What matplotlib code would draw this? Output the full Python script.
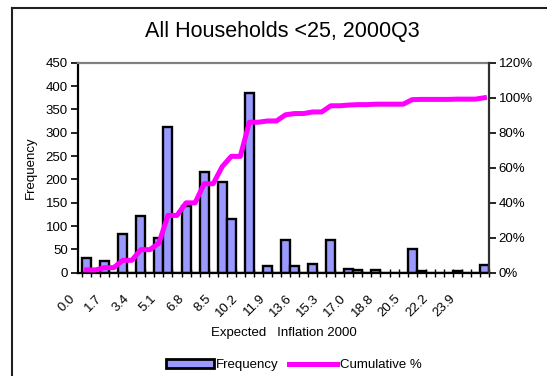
import matplotlib.pyplot as plt
import numpy as np
from matplotlib.lines import Line2D
from matplotlib.patches import Patch

plt.rcParams['font.family'] = ['Liberation Sans', 'DejaVu Sans']

# Histogram of expected inflation, households under 25
freq = [32, 0, 25, 0, 83, 0, 121, 0, 74, 313,
        0, 142, 0, 216, 0, 194, 116, 0, 386, 0,
        14, 0, 70, 14, 0, 18, 0, 70, 0, 8,
        5, 0, 5, 0, 0, 0, 51, 3, 0, 0,
        0, 3, 0, 0, 16]
bin_labels = ['0.0', '1.7', '3.4', '5.1', '6.8', '8.5', '10.2', '11.9',
              '13.6', '15.3', '17.0', '18.8', '20.5', '22.2', '23.9']

freq = np.array(freq)
cum_pct = np.cumsum(freq) / freq.sum() * 100
cats = np.arange(len(freq))

fig = plt.figure(figsize=(5.47, 3.76), dpi=100)
ax = fig.add_axes([0.1417, 0.2747, 0.7523, 0.5585])

ax.bar(cats, freq, width=1.0, color='#9999FF', edgecolor='black', linewidth=1.7, zorder=2)
ax.set_xlim(-0.5, len(freq) - 0.5)
ax.set_ylim(0, 450)
ax.set_yticks(np.arange(0, 451, 50))

# labels every third bin, slightly left of the bin centre
ax.set_xticks(cats[::3] - 1.0)
ax.set_xticklabels(bin_labels, rotation=45, ha='right', va='top', fontsize=9.5)
ax.set_xticks(np.arange(-0.5, len(freq) + 0.5, 1.0), minor=True)
ax.tick_params(axis='x', which='major', length=0, pad=14)
ax.tick_params(axis='x', which='minor', direction='inout', length=6, width=1)
ax.tick_params(axis='y', direction='out', length=5, width=1.2, labelsize=9.5, pad=2)

for side in ['left', 'bottom']:
    ax.spines[side].set_linewidth(1.6)
    ax.spines[side].set_color('black')
ax.spines['top'].set_color('#808080')
ax.spines['top'].set_linewidth(1.6)
ax.spines['right'].set_visible(False)

ax.set_ylabel('Frequency', fontsize=9.5, labelpad=6)

ax2 = ax.twinx()
ax2.plot(cats, cum_pct, color='#FF00FF', linewidth=3.6, solid_joinstyle='round', zorder=3)
ax2.set_ylim(0, 120)
ax2.set_yticks(np.arange(0, 121, 20))
ax2.set_yticklabels([f'{v}%' for v in range(0, 121, 20)])
ax2.tick_params(axis='y', direction='out', length=5, width=1.2, labelsize=9.5, pad=2)
ax2.spines['right'].set_linewidth(1.6)
ax2.spines['right'].set_color('#303030')
for side in ['left', 'top', 'bottom']:
    ax2.spines[side].set_visible(False)

fig.text(0.516, 0.917, 'All Households <25, 2000Q3', ha='center', va='center', fontsize=15.5)
fig.text(0.519, 0.114, 'Expected   Inflation 2000', ha='center', va='center', fontsize=9.5)

handles = [Patch(facecolor='#9999FF', edgecolor='black', linewidth=2),
           Line2D([0], [0], color='#FF00FF', linewidth=3.6)]
fig.legend(handles, ['Frequency', 'Cumulative %'], loc='center', ncol=2,
           bbox_to_anchor=(0.537, 1 - 365 / 376), frameon=False, fontsize=9.5,
           handlelength=3.6, handleheight=0.6, handletextpad=0.2, columnspacing=0.8)

# outer chart frame
fig.add_artist(Line2D([12 / 547, 12 / 547], [0, 1 - 8 / 376], color='#202020', linewidth=1.5))
fig.add_artist(Line2D([12 / 547, 1], [1 - 8 / 376, 1 - 8 / 376], color='#202020', linewidth=1.5))

fig.savefig('out.png', dpi=100)
